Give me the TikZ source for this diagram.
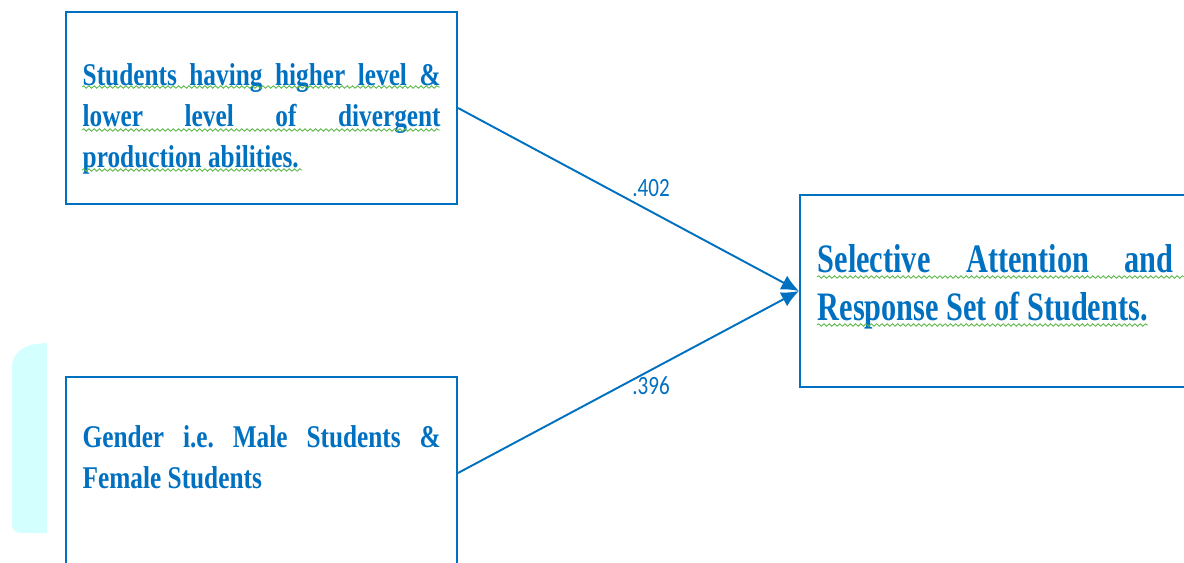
\documentclass[tikz,border=0pt]{standalone}
\usepackage{fontspec}
\setmainfont[FakeStretch=0.8]{Liberation Serif}
\newfontfamily\bigfont[FakeStretch=0.75]{Liberation Serif}
\newfontfamily\weightfont[FakeStretch=0.8]{Carlito}
\usetikzlibrary{arrows.meta,decorations.pathmorphing}
\definecolor{wordblue}{HTML}{0070C0}
\definecolor{spellgreen}{HTML}{5DB84A}
\definecolor{palecyan}{HTML}{D4FFFF}
\frenchspacing

\begin{document}
\begin{tikzpicture}[x=0.02cm, y=-0.02cm, >={Latex[length=10pt,width=9pt]}, thick,
        var box/.style={draw=wordblue, line width=1.2pt, minimum width=7.82cm, minimum height=3.84cm, inner sep=0pt},
        var text/.style={anchor=north west, inner sep=0pt, text=wordblue, align=justify, font=\bfseries\fontsize{18}{23.2}\selectfont},
        weight/.style={text=wordblue, inner sep=0pt, font=\weightfont\fontsize{15}{15}\selectfont},
        link/.style={->, draw=wordblue, line width=1.1pt},
        spell/.style={spellgreen, line width=0.5pt, decorate, decoration={snake, amplitude=0.7pt, segment length=3pt}}]
    \useasboundingbox (0,0) rectangle (1184,563);

    % strip on the left
    \fill[palecyan] (47,343) -- (36,344) to[out=188,in=88] (12,366) -- (12,525)
        to[out=-90,in=180] (20,533) -- (47,533) -- cycle;

    % boxes
    \node[var box] (dp) at (261.5,108) {};
    \node[var box] (gender) at (261.5,473) {};
    \node[var box] (sa) at (995.5,291) {};

    % texts
    \node[var text, text width=7.16cm] (dptext) at (82,63)
        {Students having higher level \&\linebreak lower level of divergent\linebreak production abilities.};
    \node[var text, text width=7.16cm] (gendertext) at (82,425)
        {Gender i.e. Male Students \&\linebreak Female Students};
    \node[var text, text width=7.12cm, font=\bigfont\bfseries\fontsize{23}{27.2}\selectfont] (satext) at (817,244)
        {Selective Attention and\linebreak Response Set of Students.};

    % spelling marks
    \draw[spell] (82,87) -- (440,87);
    \draw[spell] (82,130) -- (440,130);
    \draw[spell] (82,170) -- (302,170);
    \draw[spell] (817,277) -- (1184,277);
    \draw[spell] (817,325) -- (1148,325);

    % paths
    \path (dp.east) edge[link] node[weight, pos=0.566, above=8pt] {.402} (sa.west);
    \path (gender.east) edge[link] node[weight, pos=0.566, below=3.5pt] {.396} (sa.west);
\end{tikzpicture}
\end{document}
